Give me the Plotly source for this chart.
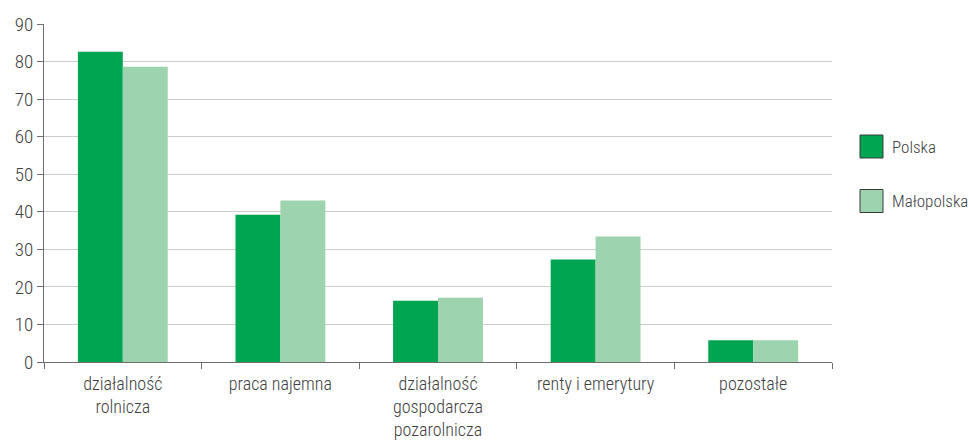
import plotly.graph_objects as go

categories = ["działalność<br>rolnicza", "praca najemna", "działalność<br>gospodarcza<br>pozarolnicza",
              "renty i emerytury", "pozostałe"]
polska = [82.6, 39.2, 16.3, 27.3, 5.8]
malopolska = [78.6, 43.0, 17.1, 33.4, 5.8]
series_names = ["Polska", "Małopolska"]
colors = ["#00A551", "#9DD3AE"]

FONT = "Roboto Condensed, Liberation Sans Narrow, sans-serif"
TXT = "#404040"

W, H = 969, 448
ML, MR, MT, MB = 44, 137, 24, 86
PW, PH = W - ML - MR, H - MT - MB

fig = go.Figure()
for name, vals, col in zip(series_names, [polska, malopolska], colors):
    fig.add_trace(go.Bar(x=categories, y=vals, name=name, marker=dict(color=col, line=dict(width=0)),
                         showlegend=False))

# custom legend: large square swatches with labels
sw = 23
for i, (name, col) in enumerate(zip(series_names, colors)):
    cy = 146.5 + i * 54.5
    x0 = (860 - ML) / PW
    x1 = (860 + sw - ML) / PW
    y0 = (MT + PH - (cy + sw / 2)) / PH
    y1 = (MT + PH - (cy - sw / 2)) / PH
    fig.add_shape(type="rect", xref="paper", yref="paper", x0=x0, x1=x1, y0=y0, y1=y1,
                  fillcolor=col, line=dict(color="#3a3a3a", width=1))
    fig.add_annotation(xref="paper", yref="paper", x=(890 - ML) / PW, y=(MT + PH - cy) / PH,
                       text=name, showarrow=False, xanchor="left", yanchor="middle",
                       font=dict(family=FONT, size=17, color=TXT, weight=300))

fig.update_layout(
    width=W, height=H,
    margin=dict(l=ML, r=MR, t=MT, b=MB, autoexpand=False),
    plot_bgcolor="white", paper_bgcolor="white",
    barmode="group", bargap=0.43, bargroupgap=0,
    font=dict(family=FONT, size=18, color=TXT, weight=300),
    showlegend=False,
)
fig.update_xaxes(showline=True, linecolor="#6e6e6e", linewidth=1, ticks="outside", tickson="boundaries",
                 ticklen=6, tickcolor="#6e6e6e", showgrid=False, automargin=False, ticklabelstandoff=5,
                 tickfont=dict(family=FONT, size=18, color=TXT, weight=300))
fig.update_yaxes(range=[0, 90], dtick=10, showline=True, linecolor="#6e6e6e", linewidth=1,
                 ticks="outside", ticklen=6, tickcolor="#6e6e6e", gridcolor="#cccccc", gridwidth=1,
                 zeroline=False, automargin=False,
                 tickfont=dict(family=FONT, size=19, color=TXT, weight=300))

fig.write_html("out.html")
